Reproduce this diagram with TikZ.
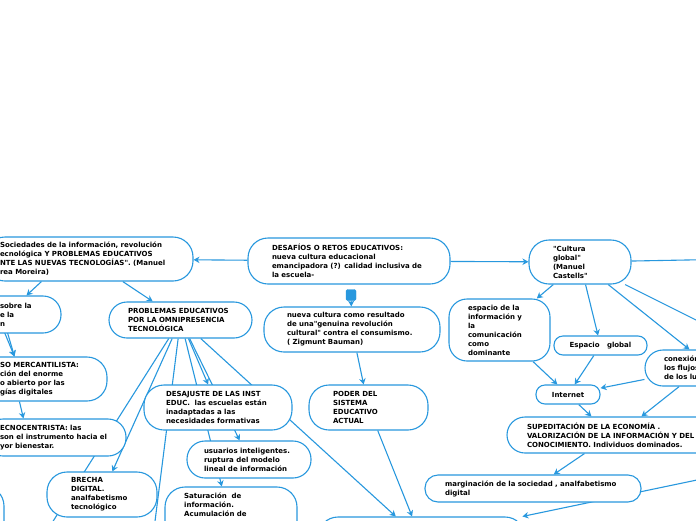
\documentclass[tikz,border=0pt]{standalone}
\usepackage{fontspec}
\setmainfont{DejaVu Sans}
\usetikzlibrary{arrows.meta}
\definecolor{mapblue}{RGB}{40,152,222}
\pgfdeclarelayer{background}
\pgfsetlayers{background,main}

\begin{document}
\begin{tikzpicture}[
    x=1pt, y=-1pt,
    topic/.style={draw=mapblue, line width=1.1pt, fill=white, rounded corners=18pt, align=left, inner xsep=0pt, inner ysep=2pt, font=\fontsize{7}{9}\selectfont\bfseries},
    topictext/.style={align=left, inner sep=0pt, font=\fontsize{7}{9}\selectfont\bfseries},
    arrow/.style={-{Stealth[length=6pt,width=6.5pt]}, draw=mapblue, line width=1.1pt},
    link/.style={draw=mapblue, line width=1.1pt},
    fold/.style={fill=mapblue, draw=mapblue, rounded corners=1.5pt, minimum width=10pt, minimum height=11pt, inner sep=0pt}
]
\useasboundingbox (0,0) rectangle (696,520);

% centre
\node[topic, minimum width=202pt, minimum height=46pt, text width=154pt, rounded corners=20pt] (root) at (349,261) {DESAFÍOS O RETOS EDUCATIVOS:\\nueva cultura educacional\\emancipadora (?) calidad inclusiva de\\la escuela-};
\node[fold] (fold) at (351,295) {};

% left branch
\node[topic, minimum width=208pt, minimum height=44pt, text width=178pt, rounded corners=20pt] (socinfo) at (89,259) {Sociedades de la información, revolución\\ecnológica Y PROBLEMAS EDUCATIVOS\\NTE LAS NUEVAS TECNOLOGÍAS\textquotedbl. (Manuel\\rea Moreira)};
\node[topic, minimum width=81pt, minimum height=37pt, text width=41pt] (sobre) at (20.5,314.5) {sobre la\\e la\\n};
\node[topic, minimum width=127pt, minimum height=44pt, text width=87pt, rounded corners=20pt] (mercantil) at (43.5,379) {SO MERCANTILISTA:\\ción del enorme\\o abierto por las\\gías digitales};
\node[topic, minimum width=141pt, minimum height=37pt, text width=111pt] (tecno) at (55.5,437.5) {ECNOCENTRISTA: las\\son el instrumento hacia el\\yor bienestar.};
\node[topic, minimum width=64pt, minimum height=74pt, rounded corners=20pt] (leftlow) at (-28,523) {};
\node[topic, minimum width=143pt, minimum height=36pt, text width=105pt] (problemas) at (180.5,320) {PROBLEMAS EDUCATIVOS\\POR LA OMNIPRESENCIA\\TECNOLÓGICA};
\node[topic, minimum width=148pt, minimum height=45pt, text width=104pt, rounded corners=20pt] (desajuste) at (218,407.5) {DESAJUSTE DE LAS INST\\EDUC.\ \ las escuelas están\\inadaptadas a las\\necesidades formativas};
\node[topic, minimum width=124pt, minimum height=37pt, text width=90pt] (usuarios) at (249,459.5) {usuarios inteligentes.\\ruptura del modelo\\lineal de información};
\node[topic, minimum width=132pt, minimum height=73pt, rounded corners=20pt] (saturacion) at (231,523.5) {};
\node[topictext, anchor=north west] (saturacion-t) at (184,493) {Saturación\ \ de\\información.\\Acumulación de};
\node[topic, minimum width=110pt, minimum height=45pt, text width=62pt, rounded corners=20pt] (brecha) at (102,494.5) {BRECHA\\DIGITAL.\\analfabetismo\\tecnológico};

% middle branch
\node[topic, minimum width=176pt, minimum height=45pt, text width=130pt, rounded corners=20pt] (nueva) at (352,329.5) {nueva cultura como resultado\\de una\textquotedbl genuina revolución\\cultural\textquotedbl\ contra el consumismo.\\( Zigmunt Bauman)};
\node[topic, minimum width=119pt, minimum height=45pt, text width=71pt, rounded corners=20pt] (poder) at (368.5,407.5) {PODER DEL\\SISTEMA\\EDUCATIVO\\ACTUAL};
\node[topic, minimum width=207pt, minimum height=46pt, rounded corners=20pt] (bottom) at (421.5,540) {};

% right branch
\node[topic, minimum width=102pt, minimum height=44pt, text width=54pt, rounded corners=20pt] (cultura) at (580,262) {\textquotedbl Cultura\\global\textquotedbl\\(Manuel\\Castells\textquotedbl};
\node[topic, minimum width=101pt, minimum height=62pt, text width=63pt] (espacio) at (499.5,330) {espacio de la\\información y\\la\\comunicación\\como\\dominante};
\node[topic, minimum width=93pt, minimum height=19pt, rounded corners=9pt, align=center] (espglobal) at (600.5,345.5) {Espacio\ \ \ global};
\node[topic, minimum width=115pt, minimum height=36pt, text width=77pt] (conexion) at (702.5,368) {conexión de\\los flujos\\de los lugares};
\node[topic, minimum width=64pt, minimum height=19pt, rounded corners=9pt, align=center] (internet) at (568,394.5) {Internet};
\node[topic, minimum width=253pt, minimum height=36pt, text width=213pt] (supedit) at (633.5,435) {SUPEDITACIÓN DE LA ECONOMÍA .\\VALORIZACIÓN DE LA INFORMACIÓN Y DEL\\CONOCIMIENTO. Individuos dominados.};
\node[topic, minimum width=216pt, minimum height=27pt, text width=176pt, rounded corners=13pt] (margin) at (533,488.5) {marginación de la sociedad , analfabetismo\\digital};

% ends outside the page
\coordinate (offA) at (19,575);
\coordinate (offB) at (152,545);
\coordinate (offC) at (-13,290);
\coordinate (offD) at (-5,290);
\coordinate (offE) at (740,259);
\coordinate (offF) at (740,342);
\coordinate (offG) at (740,471);

\begin{pgfonlayer}{background}
\fill[white] (0,0) rectangle (696,520);
\draw[arrow] (root) -- (socinfo);
\draw[arrow] (root) -- (cultura);
\draw[arrow] (fold) -- (nueva);
\draw[arrow] ([xshift=57pt]socinfo.south west) -- ([xshift=47pt]sobre.north west);
\draw[arrow] (socinfo) -- (problemas);
\draw[arrow] (offC) -- ([xshift=35pt]mercantil.north west);
\draw[arrow] (offD) -- ([xshift=35pt]mercantil.north west);
\draw[arrow] ([xshift=40pt]mercantil.south west) -- ([xshift=39pt]tecno.north west);
\draw[arrow] (problemas) -- (desajuste);
\draw[arrow] (problemas) -- (usuarios);
\draw[arrow] (problemas) -- (saturacion);
\draw[arrow] (problemas) -- (brecha);
\draw[arrow] (problemas) -- (bottom);
\draw[link] (problemas) -- (offA);
\draw[link] (problemas) -- (offB);
\draw[arrow] (nueva) -- (poder);
\draw[arrow] (poder) -- (bottom);
\draw[arrow] (cultura) -- (espacio);
\draw[arrow] (cultura) -- (espglobal);
\draw[arrow] (cultura) -- ([xshift=45pt]conexion.north west);
\draw[link] (cultura) -- (offE);
\draw[link] (cultura) -- (offF);
\draw[arrow] (espacio) -- (internet);
\draw[arrow] (espglobal) -- (internet);
\draw[arrow] (conexion) -- (internet);
\draw[arrow] (internet) -- ([xshift=85pt]supedit.north west);
\draw[arrow] (conexion) -- ([xshift=135pt]supedit.north west);
\draw[arrow] ([xshift=78pt]supedit.south west) -- (margin);
\draw[arrow] (offG) -- ([xshift=205pt]bottom.north west);
\end{pgfonlayer}

\end{tikzpicture}
\end{document}
